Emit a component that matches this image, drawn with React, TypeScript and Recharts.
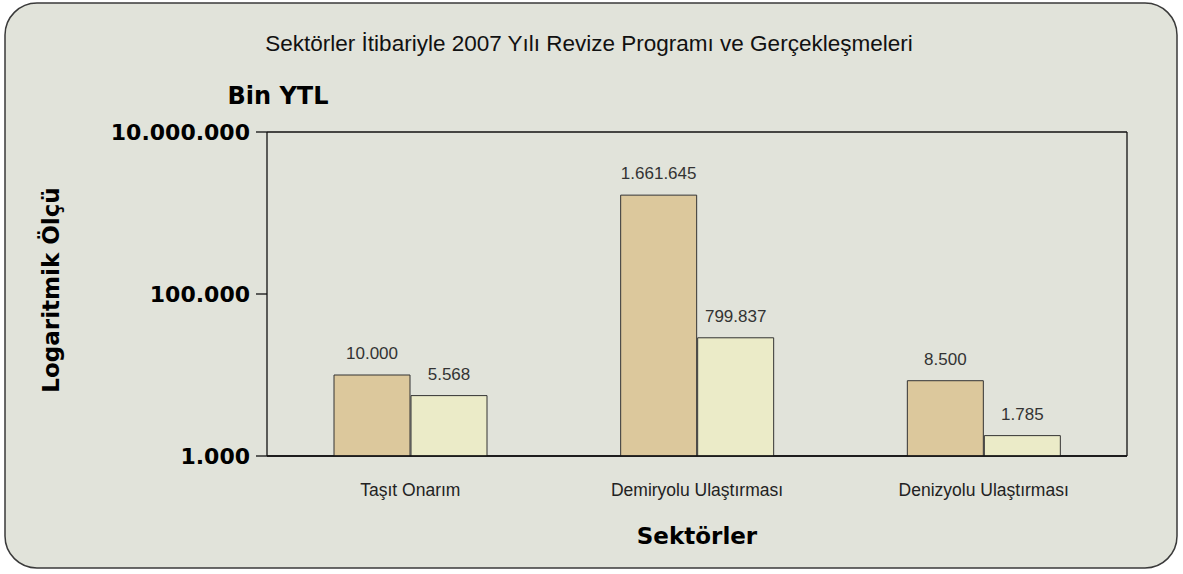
import React from "react";
import { BarChart, Bar, XAxis, YAxis, CartesianGrid, LabelList } from "recharts";

const sectors = ["Taşıt Onarım", "Demiryolu Ulaştırması", "Denizyolu Ulaştırması"];
const revizeProgram = [10000, 1661645, 8500];
const revizeLabels = ["10.000", "1.661.645", "8.500"];
const gerceklesme = [5568, 28800, 1785];
const gerceklesmeLabels = ["5.568", "799.837", "1.785"];
const yTicks = [1000, 100000, 10000000];

const data = sectors.map((name, i) => ({
  name,
  revize: revizeProgram[i],
  gercek: gerceklesme[i],
  revizeLabel: revizeLabels[i],
  gercekLabel: gerceklesmeLabels[i],
}));

const fmt = (v: number) => String(v).replace(/\B(?=(\d{3})+(?!\d))/g, ".");

const BOLD = "'DejaVu Sans', sans-serif";
const REG = "'Liberation Sans', Arial, sans-serif";

export default function App() {
  return (
    <div style={{ position: "absolute", left: 0, top: 0, width: 1183, height: 574, background: "#ffffff" }}>
      <svg width={1183} height={574} style={{ position: "absolute", left: 0, top: 0 }}>
        <rect x={5} y={3} width={1172} height={565} rx={32} ry={32} fill="#e1e3da" stroke="#3a3a3a" strokeWidth={1.5} />
        <text x={589} y={51} textAnchor="middle" fontFamily={REG} fontSize={22.5} fill="#111">
          Sektörler İtibariyle 2007 Yılı Revize Programı ve Gerçekleşmeleri
        </text>
        <text x={278} y={104} textAnchor="middle" fontFamily={BOLD} fontWeight="bold" fontSize={24} fill="#000">
          Bin YTL
        </text>
        <text transform="translate(59,290) rotate(-90)" textAnchor="middle" fontFamily={BOLD} fontWeight="bold" fontSize={23} fill="#000">
          Logaritmik Ölçü
        </text>
        <text x={697} y={544} textAnchor="middle" fontFamily={BOLD} fontWeight="bold" fontSize={23} fill="#000">
          Sektörler
        </text>
      </svg>
      <div style={{ position: "absolute", left: 0, top: 0 }}>
        <BarChart
          width={1183}
          height={574}
          data={data}
          margin={{ top: 132, right: 0, bottom: 78, left: 117 }}
          barSize={76}
          barGap={1}
        >
          <CartesianGrid horizontal={true} vertical={false} stroke="#111" strokeWidth={1.3} />
          <XAxis
            dataKey="name"
            height={40}
            axisLine={{ stroke: "#111", strokeWidth: 1.3 }}
            tickLine={false}
            tickSize={6}
            tickMargin={22}
            tick={{ fontFamily: REG, fontSize: 17.5, fill: "#222" }}
          />
          <YAxis
            yAxisId="left"
            width={150}
            scale="log"
            type="number"
            domain={[1000, 10000000]}
            allowDataOverflow
            ticks={yTicks}
            tickFormatter={fmt}
            axisLine={{ stroke: "#111", strokeWidth: 1.3 }}
            tickLine={{ stroke: "#111", strokeWidth: 1.3 }}
            tickSize={11}
            tickMargin={6}
            tick={{ fontFamily: BOLD, fontWeight: "bold", fontSize: 22, fill: "#000" }}
          />
          <YAxis
            yAxisId="right"
            orientation="right"
            width={56}
            scale="log"
            type="number"
            domain={[1000, 10000000]}
            allowDataOverflow
            tick={false}
            tickLine={false}
            axisLine={{ stroke: "#111", strokeWidth: 1.3 }}
          />
          <Bar yAxisId="left" dataKey="revize" fill="#dcc89c" stroke="#333" strokeWidth={1} isAnimationActive={false}>
            <LabelList dataKey="revizeLabel" position="top" offset={16} style={{ fontFamily: REG, fontSize: 17, fill: "#333" }} />
          </Bar>
          <Bar yAxisId="left" dataKey="gercek" fill="#ebebc8" stroke="#333" strokeWidth={1} isAnimationActive={false}>
            <LabelList dataKey="gercekLabel" position="top" offset={16} style={{ fontFamily: REG, fontSize: 17, fill: "#333" }} />
          </Bar>
        </BarChart>
      </div>
    </div>
  );
}
